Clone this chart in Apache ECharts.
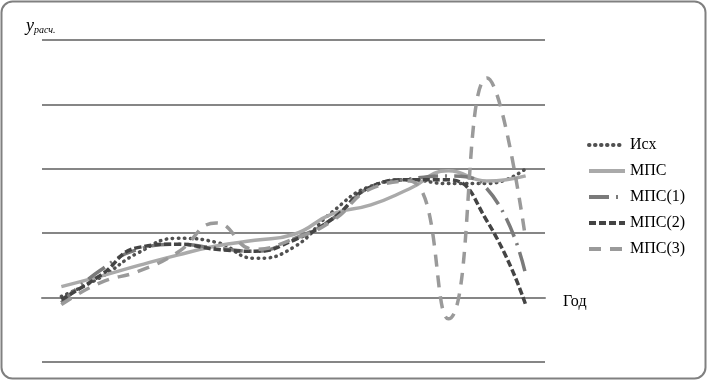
<!DOCTYPE html>
<html><head><meta charset="utf-8">
<script src="https://cdn.jsdelivr.net/npm/echarts@6/dist/echarts.min.js"></script>
<style>html,body{margin:0;padding:0;background:#fff}#c{width:708px;height:381px}</style>
</head><body><div id="c"></div>
<script>
const categories = ['1','2','3','4','5','6','7','8','9','10','11','12','13'];
const isx  = [0.02, 0.31, 0.70, 0.92, 0.86, 0.61, 0.78, 1.33, 1.73, 1.83, 1.77, 1.77, 2.00];
const mps  = [0.17, 0.33, 0.50, 0.66, 0.80, 0.89, 0.98, 1.30, 1.44, 1.69, 1.97, 1.81, 1.89];
const mps1 = [-0.08, 0.42, 0.75, 0.83, 0.77, 0.72, 0.91, 1.22, 1.72, 1.84, 1.89, 1.69, 0.36];
const mps2 = [-0.03, 0.34, 0.78, 0.83, 0.75, 0.72, 0.89, 1.22, 1.72, 1.83, 1.83, 1.19, -0.11];
const mps3 = [-0.11, 0.23, 0.41, 0.70, 1.16, 0.75, 0.91, 1.19, 1.69, 1.81, -0.33, 3.41, 0.91];
const seriesNames = ['Исх','МПС','МПС(1)','МПС(2)','МПС(3)'];
const yTicks = [-1, 0, 1, 2, 3, 4];

const chart = echarts.init(document.getElementById('c'), null, {renderer:'canvas'});
const serif = '"Liberation Serif", "DejaVu Serif", serif';
function line(name, data, color, type, width, cap){
  return {name, type:'line', data, smooth:0.5, symbol:'none', showSymbol:false,
    lineStyle:{color, type, width, cap: cap||'butt'}, itemStyle:{color}};
}
chart.setOption({
  animation:false,
  backgroundColor:'#fff',
  graphic:[{type:'rect', shape:{x:1.5,y:1.5,width:704,height:377,r:11},
    style:{fill:'none', stroke:'#808080', lineWidth:2}, silent:true}],
  title:{left:21, top:12, text:'{y|y}{s|расч.}',
    textStyle:{fontWeight:'normal', rich:{
      y:{fontFamily:serif, fontStyle:'italic', fontWeight:'normal', fontSize:18, color:'#000'},
      s:{fontFamily:serif, fontStyle:'italic', fontWeight:'normal', fontSize:10, color:'#000', padding:[8,0,0,0]}
    }}},
  grid:{left:42, right:163, top:40, bottom:19},
  legend:{orient:'vertical', left:582, top:132, itemWidth:36, itemHeight:14, itemGap:10,
    data:seriesNames, itemStyle:{opacity:0}, lineStyle:{width:4},
    textStyle:{fontFamily:serif, fontSize:16, color:'#000', lineHeight:16}},
  xAxis:{type:'category', data:categories, boundaryGap:true,
    name:'Год', nameLocation:'end', nameGap:18,
    nameTextStyle:{fontFamily:serif, fontSize:16, color:'#000', verticalAlign:'top', lineHeight:8},
    axisLine:{show:true, onZero:true, lineStyle:{color:'#868686', width:2}},
    axisTick:{show:false}, axisLabel:{show:false}, splitLine:{show:false}},
  yAxis:{type:'value', min:yTicks[0], max:yTicks[yTicks.length-1], interval:1,
    axisLine:{show:false}, axisTick:{show:false}, axisLabel:{show:false},
    splitLine:{show:true, lineStyle:{color:'#868686', width:2}}},
  series:[
    line(seriesNames[0], isx, '#505050', [0.5,5.5], 3.5, 'round'),
    line(seriesNames[1], mps, '#aaaaaa', 'solid', 3.5),
    line(seriesNames[2], mps1, '#7a7a7a', [20,7,2,7], 3.5),
    line(seriesNames[3], mps2, '#444444', [7,3], 3.5),
    line(seriesNames[4], mps3, '#9a9a9a', [12,9], 3.5)
  ]
});
</script></body></html>
